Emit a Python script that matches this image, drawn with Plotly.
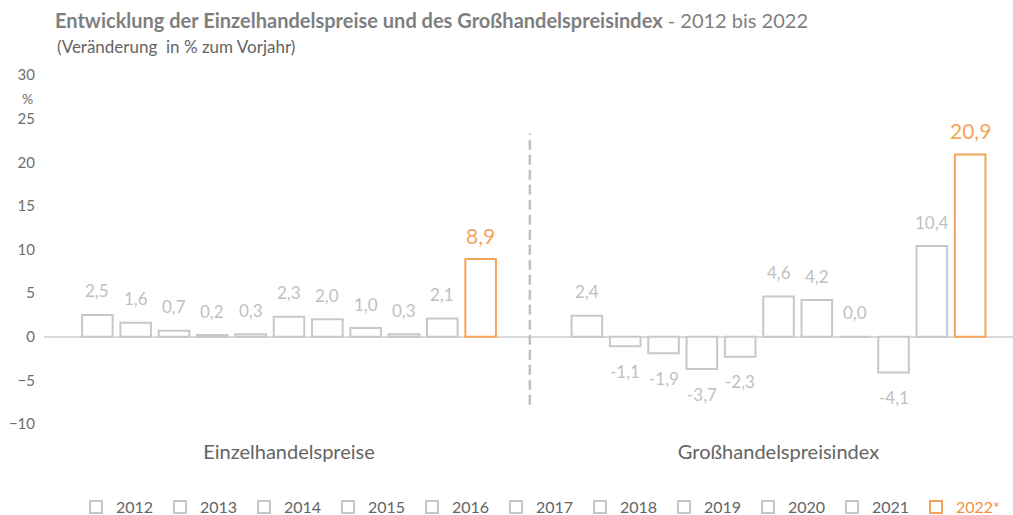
import plotly.graph_objects as go

# Kategorien und Jahresreihen (Veränderung in % zum Vorjahr)
categories = ["Einzelhandelspreise", "Großhandelspreisindex"]
years = ["2012", "2013", "2014", "2015", "2016", "2017", "2018", "2019", "2020", "2021", "2022*"]
einzelhandel = [2.5, 1.6, 0.7, 0.2, 0.3, 2.3, 2.0, 1.0, 0.3, 2.1, 8.9]
grosshandel = [2.4, -1.1, -1.9, -3.7, -2.3, 4.6, 4.2, 0.0, -4.1, 10.4, 20.9]
y_ticks = [-10, -5, 0, 5, 10, 15, 20, 25, 30]

GREY_LINE = "#c8c8c8"
GREY_LABEL = "#bfbfbf"
GREY_TEXT = "#646464"
GREY_TICK = "#6e6e6e"
ORANGE = "#f4a45c"
ORANGE_TEXT = "#ec9440"
FONT = "Lato"

W, H = 1013, 515
L, R, T, B = 44, 0, 74.5, 90.5
plot_w, plot_h = W - L - R, H - T - B

n = len(years)
pitch = 0.0783      # Abstand der Balken innerhalb einer Gruppe
bar_w = 0.0625      # Balkenbreite

fig = go.Figure()
annotations = []

for i, year in enumerate(years):
    is_last = i == n - 1
    color = ORANGE if is_last else GREY_LINE
    offset = (i - (n - 1) / 2) * pitch
    xs = [c + offset for c in range(len(categories))]
    vals = [einzelhandel[i], grosshandel[i]]
    label = f"<span style='color:{ORANGE_TEXT}'>{year}</span>" if is_last else year
    fig.add_trace(go.Bar(
        x=xs, y=vals, width=bar_w, name=label,
        marker=dict(color="white", line=dict(color=color, width=2)),
        hoverinfo="skip",
    ))
    for x, v in zip(xs, vals):
        annotations.append(dict(
            x=x, y=v, xref="x", yref="y",
            text=f"{v:.1f}".replace(".", ","),
            showarrow=False, yanchor="middle",
            yshift=(24 if v >= 0 else -25),
            font=dict(family=FONT, size=21 if is_last else 17,
                      color=ORANGE if is_last else GREY_LABEL),
        ))

# Trennlinie zwischen den beiden Gruppen
fig.add_shape(type="line", xref="x", yref="y", x0=0.492, x1=0.492, y0=-7.8, y1=23.3,
              line=dict(color="#c0c0c0", width=2.5, dash="10px,5px"))

# Untertitel und Einheit
annotations.append(dict(
    xref="paper", yref="paper",
    x=(55 - L) / plot_w, y=(H - B - 46) / plot_h,
    xanchor="left", yanchor="middle",
    text="(Veränderung  in % zum Vorjahr)", showarrow=False,
    font=dict(family=FONT, size=17, color=GREY_TEXT),
))
annotations.append(dict(
    xref="paper", yref="y", x=-17 / plot_w, y=27.3, xanchor="center", yanchor="middle",
    text="%", showarrow=False, font=dict(family=FONT, size=14, color=GREY_TICK),
))

fig.update_layout(
    width=W, height=H,
    margin=dict(l=L, r=R, t=T, b=B),
    paper_bgcolor="white", plot_bgcolor="white",
    font=dict(family=FONT, color=GREY_TEXT),
    title=dict(
        text="<b>Entwicklung der Einzelhandelspreise und des Großhandelspreisindex</b> - 2012 bis 2022",
        x=55 / W, xanchor="left", xref="container",
        y=1 - 21 / H, yanchor="middle", yref="container",
        font=dict(family=FONT, size=20, color="#7f7f7f"),
    ),
    barmode="overlay",
    showlegend=True,
    legend=dict(
        orientation="h", xref="paper", x=(76 - L) / plot_w, xanchor="left",
        yref="container", y=1 - 507 / H, yanchor="middle",
        entrywidth=39, entrywidthmode="pixels",
        font=dict(family=FONT, size=16, color=GREY_TEXT),
        bgcolor="rgba(0,0,0,0)",
    ),
    annotations=annotations,
)

fig.update_xaxes(
    range=[-0.5005, 1.479], tickvals=list(range(len(categories))), ticktext=categories,
    showgrid=False, zeroline=False, showline=False, ticks="",
    ticklabelstandoff=14,
    tickfont=dict(family=FONT, size=20, color=GREY_TEXT),
)
fig.update_yaxes(
    range=[-10, 30], tickvals=y_ticks, showgrid=False,
    zeroline=True, zerolinecolor="#d9d9d9", zerolinewidth=2,
    showline=False, ticks="", ticklabelstandoff=8,
    tickfont=dict(family=FONT, size=15, color=GREY_TICK),
)

fig.write_html("out.html")
